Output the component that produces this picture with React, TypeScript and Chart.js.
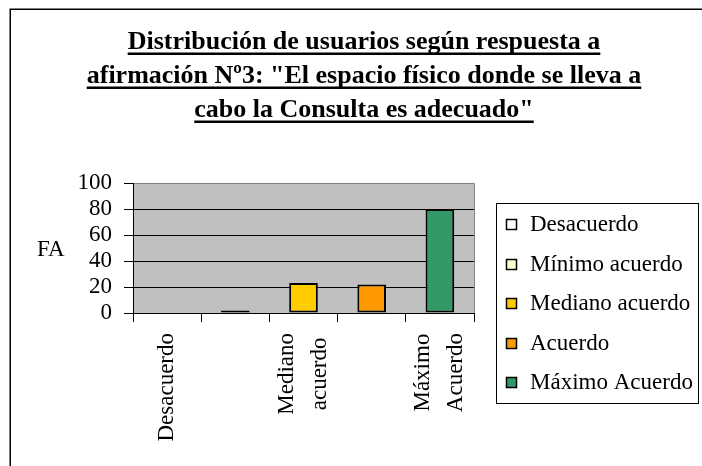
import React, { useEffect, useRef } from "react";
import { Chart, registerables } from "chart.js";

Chart.register(...registerables);

const categories = ["Desacuerdo", "Mínimo acuerdo", "Mediano acuerdo", "Acuerdo", "Máximo Acuerdo"];
const values = [0, 2, 23, 22, 80];
const barColors = ["#FFFFFF", "#FFFFCC", "#FFCC00", "#FF9900", "#339966"];
const xTickLabels: string[][] = [["Desacuerdo"], [], ["Mediano", "acuerdo"], [], ["Máximo", "Acuerdo"]];
const yMin = 0;
const yMax = 100;
const yStep = 20;
const titleLines = [
  "Distribución de usuarios según respuesta a",
  "afirmación Nº3: \"El espacio físico donde se lleva a",
  "cabo la Consulta es adecuado\"",
];
const yAxisTitle = "FA";

const FONT = "'Liberation Serif', 'Times New Roman', 'DejaVu Serif', serif";

const decorPlugin = {
  id: "decor",
  beforeDraw(chart: any) {
    const { ctx, chartArea: a, width, height } = chart;
    ctx.save();
    ctx.fillStyle = "#FFFFFF";
    ctx.fillRect(0, 0, width, height);
    ctx.strokeStyle = "#000000";
    ctx.lineWidth = 1.5;
    ctx.strokeRect(10.25, 9.25, width + 50, height + 50);
    ctx.fillStyle = "#C0C0C0";
    ctx.fillRect(a.left, a.top, a.right - a.left, a.bottom - a.top);
    ctx.strokeStyle = "#808080";
    ctx.lineWidth = 1;
    ctx.beginPath();
    ctx.moveTo(a.left, a.top + 0.5);
    ctx.lineTo(a.right + 0.5, a.top + 0.5);
    ctx.lineTo(a.right + 0.5, a.bottom);
    ctx.stroke();
    ctx.restore();
  },
  afterDraw(chart: any) {
    const { ctx, chartArea: a } = chart;
    const xScale = chart.scales.x;
    ctx.save();

    // Title (bold, underlined)
    ctx.fillStyle = "#000000";
    ctx.font = `bold 26px ${FONT}`;
    ctx.textAlign = "center";
    ctx.textBaseline = "alphabetic";
    const cx = 364;
    titleLines.forEach((line, i) => {
      const base = 49 + i * 34;
      ctx.fillText(line, cx, base);
      const w = ctx.measureText(line).width;
      ctx.fillRect(cx - w / 2, base + 3.5, w, 2.5);
    });

    // Y axis title
    ctx.font = `23px ${FONT}`;
    ctx.textAlign = "left";
    ctx.textBaseline = "middle";
    ctx.fillText(yAxisTitle, 37, (a.top + a.bottom) / 2 + 2);

    // X category labels (rotated, centered lines)
    const lh = 33;
    const labelTop = a.bottom + 20;
    xTickLabels.forEach((lines, i) => {
      if (!lines.length) return;
      const px = xScale.getPixelForValue(i);
      const widths = lines.map((l) => ctx.measureText(l).width);
      const maxW = Math.max(...widths);
      const n = lines.length;
      lines.forEach((l, j) => {
        const lx = px + (j - (n - 1) / 2) * lh;
        ctx.save();
        ctx.translate(lx, labelTop + maxW / 2);
        ctx.rotate(-Math.PI / 2);
        ctx.textAlign = "center";
        ctx.textBaseline = "middle";
        ctx.fillText(l, 0, 0);
        ctx.restore();
      });
    });

    // Legend
    const lx0 = 496, ly0 = 203, lw = 202, lhh = 200;
    ctx.strokeStyle = "#000000";
    ctx.lineWidth = 1;
    ctx.strokeRect(lx0 + 0.5, ly0 + 0.5, lw, lhh);
    ctx.textAlign = "left";
    ctx.textBaseline = "middle";
    categories.forEach((c, i) => {
      const cy = 224 + i * 39.6;
      const sy = Math.round(cy - 5);
      ctx.fillStyle = barColors[i];
      ctx.fillRect(506, sy, 11, 11);
      ctx.strokeStyle = "#000000";
      ctx.lineWidth = 1.5;
      ctx.strokeRect(506.5, sy + 0.5, 10, 10);
      ctx.fillStyle = "#000000";
      ctx.fillText(c, 530, cy + 1);
    });

    ctx.restore();
  },
};

export default function App() {
  const ref = useRef<HTMLCanvasElement | null>(null);

  useEffect(() => {
    document.body.style.margin = "0";
    const canvas = ref.current;
    if (!canvas) return;
    const chart = new Chart(canvas, {
      type: "bar",
      data: {
        labels: categories,
        datasets: [
          {
            data: values,
            backgroundColor: barColors,
            borderColor: "#000000",
            borderWidth: 2,
            borderSkipped: false,
            barPercentage: 0.42,
            categoryPercentage: 1,
          },
        ],
      },
      options: {
        animation: false,
        responsive: false,
        devicePixelRatio: 1,
        layout: { padding: { left: 0, top: 183, right: 228, bottom: 0 } },
        plugins: {
          legend: { display: false },
          title: { display: false },
          tooltip: { enabled: false },
        },
        scales: {
          x: {
            afterFit: (scale: any) => {
              scale.height = 153;
            },
            grid: {
              offset: true,
              drawOnChartArea: false,
              drawTicks: true,
              tickLength: 9,
              tickColor: "#000000",
              color: "#000000",
            },
            border: { display: true, color: "#000000", width: 1 },
            ticks: { display: false },
          },
          y: {
            min: yMin,
            max: yMax,
            afterFit: (scale: any) => {
              scale.width = 133;
            },
            ticks: {
              stepSize: yStep,
              autoSkip: false,
              padding: 12,
              color: "#000000",
              font: { family: FONT, size: 23 },
            },
            grid: {
              color: (c: any) => (c.tick && c.tick.value === yMax ? "#808080" : "#000000"),
              tickColor: "#000000",
              tickLength: 9,
              drawTicks: true,
              lineWidth: 1,
            },
            border: { display: true, color: "#000000", width: 1 },
          },
        },
      },
      plugins: [decorPlugin],
    });
    return () => chart.destroy();
  }, []);

  return (
    <div style={{ width: 702, height: 466 }}>
      <canvas ref={ref} width={702} height={466} />
    </div>
  );
}
